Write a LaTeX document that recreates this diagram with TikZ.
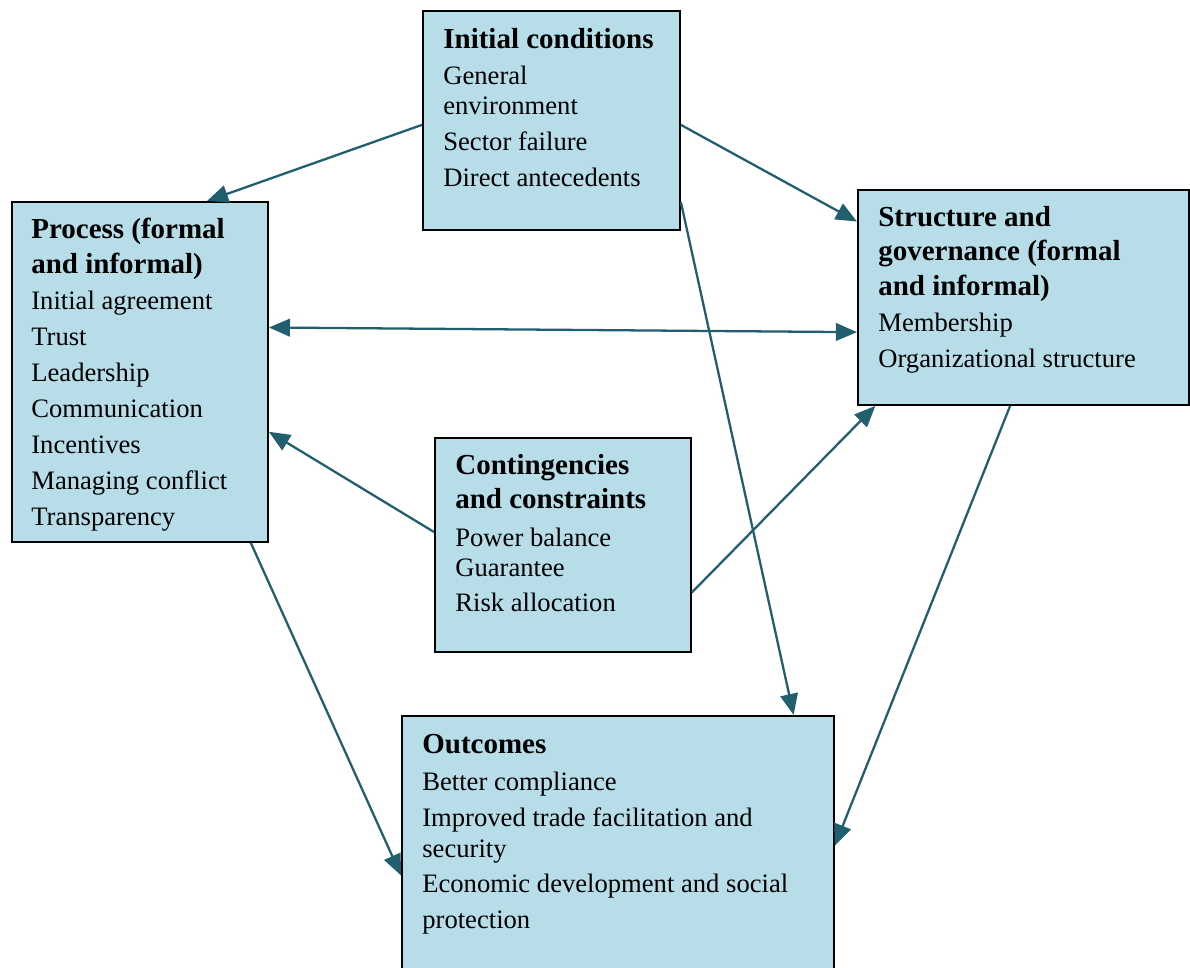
\documentclass[tikz,border=0pt]{standalone}
\usepackage{fontspec}
\setmainfont{Liberation Serif}
\usetikzlibrary{arrows.meta,calc}
\definecolor{boxblue}{HTML}{B7DDE8}
\definecolor{arrowteal}{HTML}{215E6E}

\begin{document}
\begin{tikzpicture}[x=0.02cm,y=-0.02cm,
  box/.style={draw=black,line width=1.1pt,fill=boxblue,rectangle,inner sep=0pt,anchor=north west},
  ttl/.style={anchor=base west,inner sep=0pt,font=\fontsize{16.5}{20}\selectfont\bfseries},
  txt/.style={anchor=base west,inner sep=0pt,font=\fontsize{15.15}{18}\selectfont},
  link/.style={draw=arrowteal,line width=1.3pt,-{Triangle[length=12pt,width=10pt]}},
  dlink/.style={draw=arrowteal,line width=1.3pt,{Triangle[length=12pt,width=10pt]}-{Triangle[length=12pt,width=10pt]}}]
  \clip (0,0) rectangle (1190,967);

  % boxes
  \node[box,minimum width=5.14cm,minimum height=4.38cm] (init) at (422,10) {};
  \node[box,minimum width=5.12cm,minimum height=6.80cm] (proc) at (11,201) {};
  \node[box,minimum width=6.62cm,minimum height=4.30cm] (struc) at (857,189) {};
  \node[box,minimum width=5.12cm,minimum height=4.28cm] (cont) at (434,437) {};
  \node[box,minimum width=8.64cm,minimum height=5.40cm] (outc) at (401,715) {};

  % initial conditions
  \node[ttl] (init-t) at (443,48) {Initial conditions};
  \foreach \y/\t [count=\i] in {84/General,114/environment,150/Sector failure,186/Direct antecedents}
    \node[txt] (init-\i) at (443,\y) {\t};

  % process
  \foreach \y/\t [count=\i] in {238/Process (formal,273/and informal)}
    \node[ttl] (proc-t\i) at (31,\y) {\t};
  \foreach \y/\t [count=\i] in {309/Initial agreement,345/Trust,381/Leadership,417/Communication,453/Incentives,489/Managing conflict,525/Transparency}
    \node[txt] (proc-\i) at (31,\y) {\t};

  % structure and governance
  \foreach \y/\t [count=\i] in {226/Structure and,260/governance (formal,295/and informal)}
    \node[ttl] (struc-t\i) at (878,\y) {\t};
  \foreach \y/\t [count=\i] in {331/Membership,367/Organizational structure}
    \node[txt] (struc-\i) at (878,\y) {\t};

  % contingencies
  \foreach \y/\t [count=\i] in {474/Contingencies,508/and constraints}
    \node[ttl] (cont-t\i) at (455,\y) {\t};
  \foreach \y/\t [count=\i] in {546/Power balance,576/Guarantee,611/Risk allocation}
    \node[txt] (cont-\i) at (455,\y) {\t};

  % outcomes
  \node[ttl] (outc-t) at (422,753) {Outcomes};
  \foreach \y/\t [count=\i] in {790/Better compliance,826/Improved trade facilitation and,857/security,892/Economic development and social,928/protection}
    \node[txt] (outc-\i) at (422,\y) {\t};

  % arrows
  \draw[link] ($(init.north west)!0.52!(init.south west)$) -- ($(proc.north west)!0.76!(proc.north east)$);
  \draw[link] ($(init.north east)!0.52!(init.south east)$) -- ($(struc.north west)!0.15!(struc.south west)$);
  \draw[link] ($(init.north east)!0.87!(init.south east)$) -- ($(outc.north west)!0.905!(outc.north east)$);
  \draw[dlink] ($(proc.north east)!0.37!(proc.south east)$) -- ($(struc.north west)!0.66!(struc.south west)$);
  \draw[link] ($(cont.north west)!0.44!(cont.south west)$) -- ($(proc.north east)!0.675!(proc.south east)$);
  \draw[link] ($(cont.north east)!0.72!(cont.south east)$) -- ($(struc.south west)!0.055!(struc.south east)$);
  \draw[link] ($(proc.south west)!0.93!(proc.south east)$) -- ($(outc.north west)!0.59!(outc.south west)$);
  \draw[link] ($(struc.south west)!0.46!(struc.south east)$) -- ($(outc.north east)!0.48!(outc.south east)$);
\end{tikzpicture}
\end{document}
